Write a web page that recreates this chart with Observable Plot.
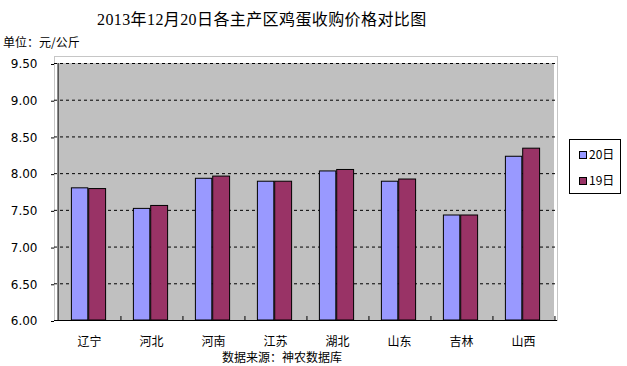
<!DOCTYPE html>
<html>
<head>
<meta charset="utf-8">
<script src="https://cdn.jsdelivr.net/npm/d3@7"></script>
<script src="https://cdn.jsdelivr.net/npm/@observablehq/plot@0.6"></script>
<style>
  body { margin: 0; background: #fff; }
  #wrap { position: relative; width: 627px; height: 366px; font-family: "Noto Sans CJK SC", sans-serif; color: #000; }
  #chart { position: absolute; left: 0; top: 0; }
  .abs { position: absolute; line-height: 1; white-space: nowrap; }
  #title { left: 97px; top: 12px; font-size: 16px; font-family: "Liberation Serif", "Noto Sans CJK SC", serif; letter-spacing: 0.4px; }
  #unit { left: 3px; top: 36px; font-size: 12px; }
  #caption { left: 222px; top: 351px; font-size: 12px; }
  #legend { left: 569px; top: 139px; width: 52px; height: 55px; box-sizing: border-box; border: 1px solid #000; background: #fff; }
  .sw { position: absolute; left: 9px; width: 6px; height: 6px; border: 1px solid #000; }
  .lt { position: absolute; left: 19px; font-size: 12px; line-height: 1; }
</style>
</head>
<body>
<div id="wrap">
  <div id="chart"></div>
  <div id="title" class="abs"></div>
  <div id="unit" class="abs"></div>
  <div id="caption" class="abs"></div>
  <div id="legend" class="abs"></div>
</div>
<script>
const titleText = "2013年12月20日各主产区鸡蛋收购价格对比图";
const unitText = "单位：元/公斤";
const captionText = "数据来源：神农数据库";
const regions = ["辽宁", "河北", "河南", "江苏", "湖北", "山东", "吉林", "山西"];
const seriesNames = ["20日", "19日"];
const seriesColors = ["#9999ff", "#993366"];
const values20 = [7.80, 7.52, 7.93, 7.89, 8.03, 7.89, 7.43, 8.23];
const values19 = [7.79, 7.56, 7.96, 7.89, 8.05, 7.92, 7.43, 8.34];
const yTicks = [6.00, 6.50, 7.00, 7.50, 8.00, 8.50, 9.00, 9.50];

const rows = regions.map((r, i) => ({region: r, v20: values20[i], v19: values19[i]}));
const yMin = yTicks[0], yMax = yTicks[yTicks.length - 1];
const halfStep = 31.44;
const tickLen = (yMax - yMin) * 4 / 257;

const chart = Plot.plot({
  width: 627,
  height: 366,
  marginLeft: 54,
  marginRight: 70,
  marginTop: 56,
  marginBottom: 46,
  style: {fontFamily: '"Noto Sans CJK SC", sans-serif', fontSize: "12px", background: "transparent", color: "#000"},
  x: {domain: regions, padding: 0, label: null},
  y: {domain: [yMin, yMax], range: [320, 63], label: null},
  marks: [
    Plot.frame({stroke: "#8c8c8c", strokeDasharray: "1,1"}),
    Plot.barY(regions, {x: d => d, y1: yMin, y2: yMax, fill: "#c0c0c0"}),
    Plot.gridY(yTicks.filter(v => v > yMin), {stroke: "#000", strokeOpacity: 1, strokeDasharray: "3,3"}),
    Plot.barY(rows, {x: "region", y1: yMin, y2: "v20", fill: seriesColors[0], stroke: "#000", strokeWidth: 1, insetLeft: 13.4, insetRight: 32.2}),
    Plot.barY(rows, {x: "region", y1: yMin, y2: "v19", fill: seriesColors[1], stroke: "#000", strokeWidth: 1, insetLeft: 30.7, insetRight: 14.4}),
    Plot.ruleY([yMin], {stroke: "#000", strokeWidth: 1}),
    Plot.ruleX(regions.slice(0, 1), {x: d => d, y1: yMin, y2: yMax, dx: -halfStep, stroke: "#000"}),
    Plot.ruleX(regions, {x: d => d, y1: yMin, y2: yMin + tickLen, dx: halfStep, stroke: "#000"}),
    Plot.axisY({ticks: yTicks, tickFormat: d => d.toFixed(2), tickSize: 3, tickPadding: 14, dy: 1, fontFamily: '"DejaVu Sans", sans-serif', fontSize: 12, label: null}),
    Plot.axisX({tickSize: 0, tickPadding: 17, fontSize: 12, label: null})
  ]
});
document.getElementById("chart").appendChild(chart);

document.getElementById("title").textContent = titleText;
document.getElementById("unit").textContent = unitText;
document.getElementById("caption").textContent = captionText;

const legend = document.getElementById("legend");
seriesNames.forEach((name, i) => {
  const sw = document.createElement("div");
  sw.className = "sw";
  sw.style.top = (11 + i * 26) + "px";
  sw.style.background = seriesColors[i];
  legend.appendChild(sw);
  const t = document.createElement("div");
  t.className = "lt";
  t.style.top = (8 + i * 26) + "px";
  t.textContent = name;
  legend.appendChild(t);
});
</script>
</body>
</html>
